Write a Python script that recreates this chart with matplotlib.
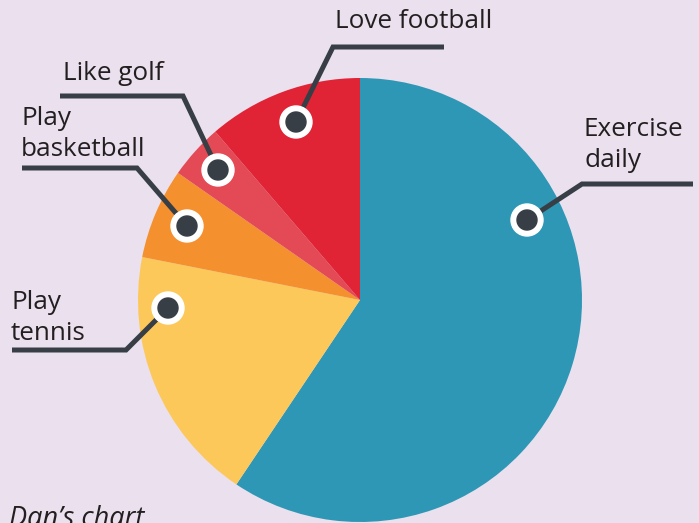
import numpy as np
import matplotlib.pyplot as plt
from matplotlib.patches import Circle

# data
labels = ["Exercise\ndaily", "Play\ntennis", "Play\nbasketball", "Like golf", "Love football"]
shares = [59.4, 18.7, 6.6, 4.0, 11.3]
colors = ["#2E97B5", "#FDC85A", "#F5902E", "#E34A55", "#E12336"]

W, H = 699, 523
BG = "#EAE0EE"
DARK = "#373E45"
TXT = "#231F20"

fig = plt.figure(figsize=(W / 100, H / 100), dpi=100, facecolor=BG)
ax = fig.add_axes([0, 0, 1, 1])
ax.set_facecolor(BG)

cx, cy, R = 360, H - 300, 222
ax.pie(shares, colors=colors, startangle=90, counterclock=False,
       center=(cx, cy), radius=R, wedgeprops=dict(linewidth=0))

ax.set_xlim(0, W)
ax.set_ylim(0, H)
ax.set_aspect("equal")
ax.axis("off")

# marker (x, y), elbow (x, y), line end x, text pos  -- image pixel coords
callouts = [
    ((527, 220), (582, 184), 693, (584, 145)),
    ((168, 308), (126, 350), 12, (11, 318)),
    ((187, 226), (137, 168), 22, (21, 134)),
    ((218, 170), (183, 96), 60, (63, 73)),
    ((296, 122), (333, 47), 444, (335, 22)),
]

for lab, (m, e, xend, tp) in zip(labels, callouts):
    ax.plot([m[0], e[0], xend], [H - m[1], H - e[1], H - e[1]],
            color=DARK, lw=3.6, solid_capstyle="butt", solid_joinstyle="miter", zorder=3)
    ax.add_patch(Circle((m[0], H - m[1]), 16, color="white", zorder=4))
    ax.add_patch(Circle((m[0], H - m[1]), 10, color=DARK, zorder=5))
    ax.text(tp[0], H - tp[1], lab, ha="left", va="center", fontsize=18.8,
            family="Open Sans", color=TXT, linespacing=1.3, zorder=6)

# caption, cut off by the bottom edge as in the original
ax.text(9, H - 526, "Dan\u2019s chart", ha="left", va="baseline", fontsize=19.5,
        family="Open Sans", style="italic", color=TXT, clip_on=False)

fig.savefig("out.png", dpi=100, facecolor=BG)
